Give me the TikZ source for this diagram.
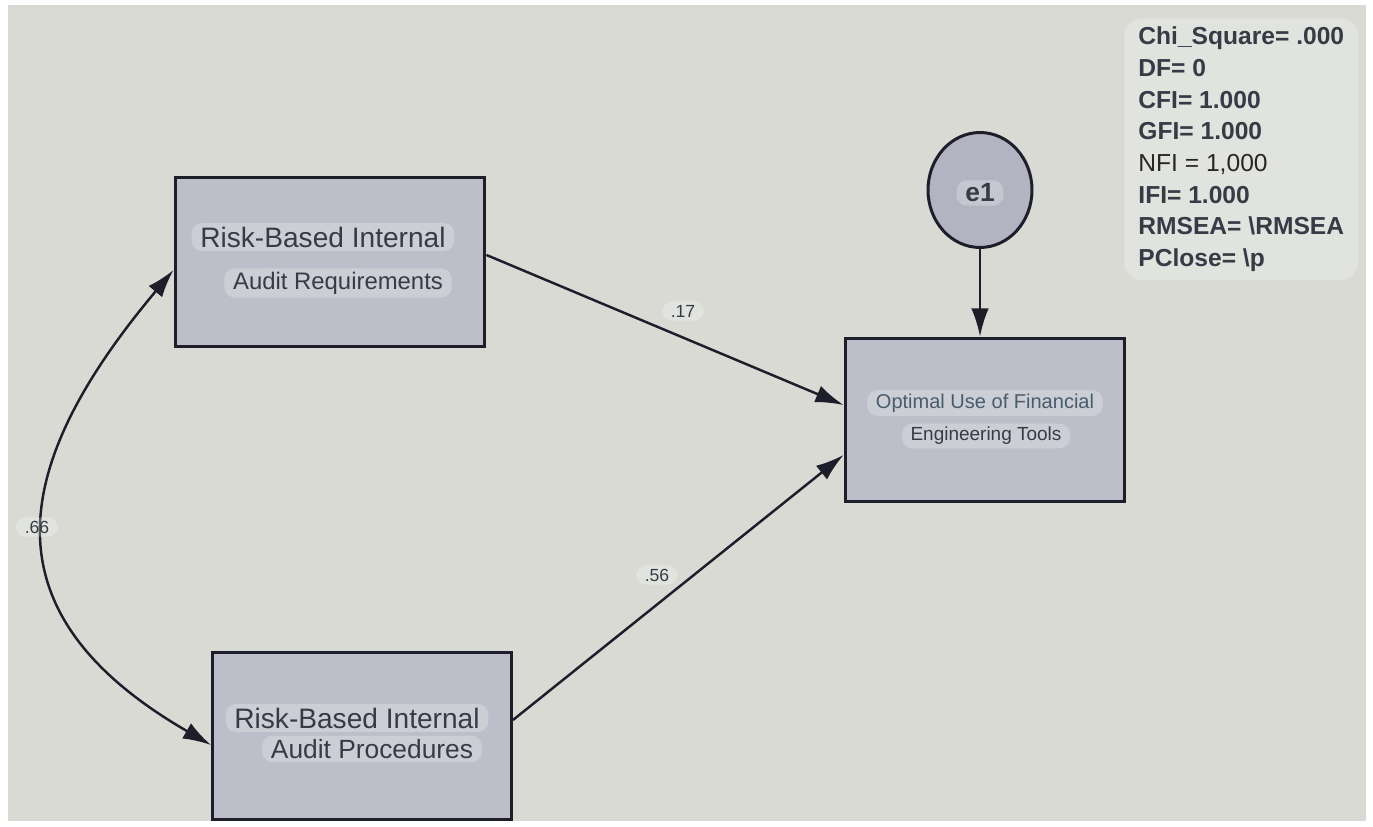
\documentclass[tikz,border=0pt]{standalone}
\usepackage{fontspec}
\setmainfont{Liberation Sans}
\usepackage{xcolor}
\definecolor{PAPERCOLOR}{RGB}{216,218,211}
\definecolor{BOXCOLOR}{RGB}{188,190,201}
\definecolor{ERRCOLOR}{RGB}{178,180,193}
\definecolor{LINECOLOR}{RGB}{30,30,42}
\definecolor{TEXTCOLOR}{RGB}{58,58,70}
\definecolor{BLUETEXT}{RGB}{72,92,110}
\colorlet{PILLCOLOR}{white}
\usepackage{tikz}
\usetikzlibrary{arrows.meta,shapes.geometric}
\tikzset{
  var-style/.style = {
    rectangle, draw=LINECOLOR, line width=1.7pt,
    fill=BOXCOLOR
  },
  err-style/.style = {
    ellipse, draw=LINECOLOR, line width=1.7pt,
    fill=ERRCOLOR,
    minimum width=2.08cm, minimum height=2.3cm
  },
  text-style/.style = {
    fill=PILLCOLOR, fill opacity=0.25, text opacity=1,
    rounded corners=6pt, inner xsep=5pt, inner ysep=2pt,
    text=TEXTCOLOR, font=#1
  },
  coef-style/.style = {
    text-style=\fontsize{10}{11}\selectfont
  },
  path-style/.style = {
    draw=LINECOLOR, line width=1.4pt,
    -{Latex[length=16pt,width=10pt]}
  },
  cov-style/.style = {
    draw=LINECOLOR, line width=1.4pt,
    {Latex[length=16pt,width=10pt]}-{Latex[length=16pt,width=10pt]}
  }
}
\newcommand\lineA{\fontsize{16}{18}\selectfont}

\begin{document}
\begin{tikzpicture}[x=0.02cm,y=0.02cm]
  \useasboundingbox (0,0) rectangle (1373,-827);
  \fill[white] (0,0) rectangle (1373,-827);
  \fill[PAPERCOLOR] (8,-5) rectangle (1366,-821);

  % observed variables
  \node[var-style, minimum width=6.2cm, minimum height=3.4cm] (req) at (330,-262) {};
  \node[var-style, minimum width=5.98cm, minimum height=3.36cm] (proc) at (362,-736) {};
  \node[var-style, minimum width=5.6cm, minimum height=3.28cm] (opt) at (985,-420) {};
  \node[err-style] (e1) at (980,-190) {};

  \node[text-style=\lineA] (req-a) at (323,-237) {Risk-Based Internal};
  \node[text-style=\fontsize{13.6}{15}\selectfont] (req-b) at (338,-283) {Audit Requirements};
  \node[text-style=\lineA] (proc-a) at (357,-718) {Risk-Based Internal};
  \node[text-style=\fontsize{15}{17}\selectfont] (proc-b) at (372,-749) {Audit Procedures};
  \node[text-style=\fontsize{11.4}{13}\selectfont, text=BLUETEXT] (opt-a) at (985,-403) {Optimal Use of Financial};
  \node[text-style=\fontsize{10.8}{12}\selectfont] (opt-b) at (986,-436) {Engineering Tools};
  \node[text-style=\fontsize{15}{17}\selectfont\bfseries] (e1-t) at (980,-193) {e1};

  % paths
  \draw[path-style] ([yshift=0.14cm]req.east) -- ([yshift=0.3cm]opt.west);
  \draw[path-style] ([yshift=0.32cm]proc.east) -- ([yshift=-0.7cm]opt.west);
  \draw[path-style] (e1.south) -- (e1.south |- opt.north);
  \draw[cov-style] ([yshift=-0.16cm]req.west) to[out=230, in=150, looseness=1.4] ([yshift=-0.18cm]proc.west);

  \node[coef-style] (c17) at (683,-311) {.17};
  \node[coef-style] (c56) at (657,-575) {.56};
  \node[coef-style] (c66) at (37,-527) {.66};

  % fit statistics
  \node[text-style=\fontsize{14}{18}\selectfont\bfseries, align=left, anchor=north west, rounded corners=10pt, inner xsep=8pt, inner ysep=5pt] (fit) at (1124,-18) {%
    Chi\_Square= .000\\
    DF= 0\\
    CFI= 1.000\\
    GFI= 1.000\\
    {\mdseries\color{black!85}NFI = 1,000}\\
    IFI= 1.000\\
    RMSEA= \textbackslash RMSEA\\
    PClose= \textbackslash p};
\end{tikzpicture}
\end{document}
